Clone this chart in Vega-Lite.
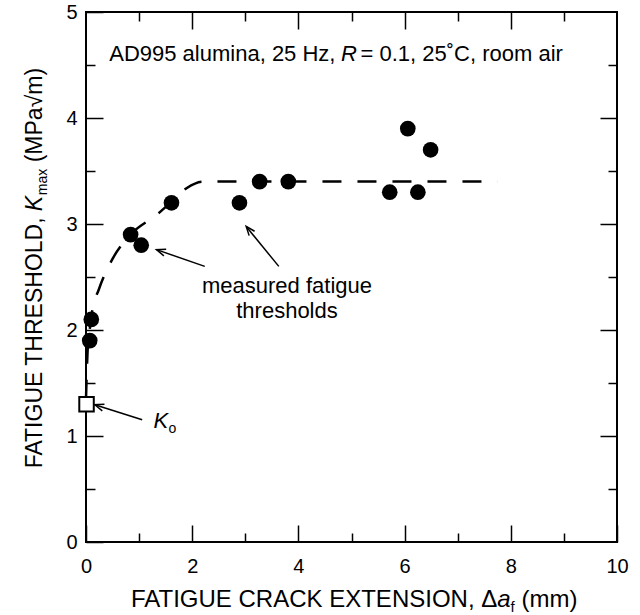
{
  "$schema": "https://vega.github.io/schema/vega-lite/v6.json",
  "width": 531,
  "height": 530,
  "autosize": {"type": "none"},
  "padding": {"left": 86, "top": 12, "right": 23, "bottom": 73},
  "background": "#ffffff",
  "config": {
    "view": {"stroke": "#000000", "strokeWidth": 2},
    "font": "Liberation Sans",
    "axis": {
      "grid": false,
      "domain": false,
      "title": null,
      "tickColor": "#000000",
      "tickWidth": 1.5,
      "labelColor": "#000000",
      "labelFont": "Liberation Sans",
      "labelFontSize": 20,
      "labelFlush": false
    }
  },
  "datasets": {
    "thresholds": [
      {"x": 0.07, "y": 1.9},
      {"x": 0.1, "y": 2.1},
      {"x": 0.84, "y": 2.9},
      {"x": 1.04, "y": 2.8},
      {"x": 1.61, "y": 3.2},
      {"x": 2.89, "y": 3.2},
      {"x": 3.27, "y": 3.4},
      {"x": 3.81, "y": 3.4},
      {"x": 5.72, "y": 3.3},
      {"x": 6.25, "y": 3.3},
      {"x": 6.06, "y": 3.9},
      {"x": 6.49, "y": 3.7}
    ],
    "trend": [
      {"x": 0.0, "y": 1.35},
      {"x": 0.03, "y": 1.8},
      {"x": 0.07, "y": 2.0},
      {"x": 0.12, "y": 2.19},
      {"x": 0.24, "y": 2.38},
      {"x": 0.51, "y": 2.68},
      {"x": 0.84, "y": 2.9},
      {"x": 1.34, "y": 3.09},
      {"x": 1.61, "y": 3.21},
      {"x": 1.9, "y": 3.34},
      {"x": 2.2, "y": 3.4},
      {"x": 7.75, "y": 3.4}
    ],
    "ko": [{"x": 0.01, "y": 1.3}],
    "arrows": [
      {"id": "a1", "x": 1.328, "y": 2.758, "x2": 2.237, "y2": 2.6},
      {"id": "a2", "x": 3.017, "y": 2.977, "x2": 3.631, "y2": 2.6},
      {"id": "ko", "x": 0.166, "y": 1.295, "x2": 1.058, "y2": 1.154}
    ]
  },
  "resolve": {"axis": {"x": "independent", "y": "independent"}},
  "layer": [
    {
      "data": {"name": "trend"},
      "mark": {"type": "line", "color": "#000000", "strokeWidth": 2.5, "strokeDash": [19, 16], "interpolate": "monotone"},
      "encoding": {
        "x": {"field": "x", "type": "quantitative", "scale": {"domain": [0, 10], "nice": false},
              "axis": {"orient": "bottom", "values": [0, 2, 4, 6, 8, 10], "tickSize": -17, "labelPadding": 31, "labelFlush": false}},
        "y": {"field": "y", "type": "quantitative", "scale": {"domain": [0, 5], "nice": false},
              "axis": {"orient": "left", "values": [0, 1, 2, 3, 4, 5], "tickSize": -17, "labelPadding": 26, "labelFlush": false}}
      }
    },
    {
      "data": {"name": "thresholds"},
      "mark": {"type": "point", "shape": "circle", "filled": true, "color": "#000000", "size": 245, "opacity": 1},
      "encoding": {
        "x": {"field": "x", "type": "quantitative", "scale": {"domain": [0, 10], "nice": false},
              "axis": {"orient": "bottom", "values": [1, 3, 5, 7, 9], "tickSize": -9, "labels": false}},
        "y": {"field": "y", "type": "quantitative", "scale": {"domain": [0, 5], "nice": false},
              "axis": {"orient": "left", "values": [0.5, 1.5, 2.5, 3.5, 4.5], "tickSize": -9, "labels": false}}
      }
    },
    {
      "data": {"name": "ko"},
      "mark": {"type": "point", "shape": "square", "filled": false, "fill": "#ffffff", "stroke": "#000000", "strokeWidth": 2, "size": 210, "opacity": 1},
      "encoding": {
        "x": {"field": "x", "type": "quantitative", "scale": {"domain": [0, 10], "nice": false},
              "axis": {"orient": "top", "values": [2, 4, 6, 8], "tickSize": -17, "labels": false}},
        "y": {"field": "y", "type": "quantitative", "scale": {"domain": [0, 5], "nice": false},
              "axis": {"orient": "right", "values": [1, 2, 3, 4], "tickSize": -17, "labels": false}}
      }
    },
    {
      "data": {"name": "arrows"},
      "mark": {"type": "rule", "color": "#000000", "strokeWidth": 1.5},
      "encoding": {
        "x": {"field": "x", "type": "quantitative", "scale": {"domain": [0, 10], "nice": false},
              "axis": {"orient": "top", "values": [1, 3, 5, 7, 9], "tickSize": -9, "labels": false}},
        "y": {"field": "y", "type": "quantitative", "scale": {"domain": [0, 5], "nice": false},
              "axis": {"orient": "right", "values": [0.5, 1.5, 2.5, 3.5, 4.5], "tickSize": -9, "labels": false}},
        "x2": {"field": "x2"},
        "y2": {"field": "y2"}
      }
    },
    {
      "data": {"name": "arrows"},
      "transform": [{"filter": "datum.id === 'a1'"}],
      "mark": {"type": "point", "shape": "M-0.7,1.8L0,0L0.7,1.8", "filled": false, "stroke": "#000000", "strokeWidth": 1.5, "size": 100, "angle": 289, "opacity": 1},
      "encoding": {
        "x": {"field": "x", "type": "quantitative", "axis": null},
        "y": {"field": "y", "type": "quantitative", "axis": null}
      }
    },
    {
      "data": {"name": "arrows"},
      "transform": [{"filter": "datum.id === 'a2'"}],
      "mark": {"type": "point", "shape": "M-0.7,1.8L0,0L0.7,1.8", "filled": false, "stroke": "#000000", "strokeWidth": 1.5, "size": 100, "angle": 321, "opacity": 1},
      "encoding": {
        "x": {"field": "x", "type": "quantitative", "axis": null},
        "y": {"field": "y", "type": "quantitative", "axis": null}
      }
    },
    {
      "data": {"name": "arrows"},
      "transform": [{"filter": "datum.id === 'ko'"}],
      "mark": {"type": "point", "shape": "M-0.7,1.8L0,0L0.7,1.8", "filled": false, "stroke": "#000000", "strokeWidth": 1.5, "size": 100, "angle": 288, "opacity": 1},
      "encoding": {
        "x": {"field": "x", "type": "quantitative", "axis": null},
        "y": {"field": "y", "type": "quantitative", "axis": null}
      }
    },
    {
      "data": {"values": [
        {"label": "= 0.1, 25˚C, room air", "x": 5.17, "y": 4.54}
      ]},
      "mark": {"type": "text", "align": "left", "baseline": "alphabetic", "fontSize": 22, "color": "#000000"},
      "encoding": {
        "x": {"field": "x", "type": "quantitative", "axis": null},
        "y": {"field": "y", "type": "quantitative", "axis": null},
        "text": {"field": "label"}
      }
    },
    {
      "data": {"values": [
        {"label": "AD995 alumina, 25 Hz,", "x": 4.698, "y": 4.54}
      ]},
      "mark": {"type": "text", "align": "right", "baseline": "alphabetic", "fontSize": 22, "color": "#000000"},
      "encoding": {
        "x": {"field": "x", "type": "quantitative", "axis": null},
        "y": {"field": "y", "type": "quantitative", "axis": null},
        "text": {"field": "label"}
      }
    },
    {
      "data": {"values": [
        {"label": "R", "x": 4.8, "y": 4.54},
        {"label": "K", "x": 1.27, "y": 1.075}
      ]},
      "mark": {"type": "text", "align": "left", "baseline": "alphabetic", "fontSize": 22, "fontStyle": "italic", "color": "#000000"},
      "encoding": {
        "x": {"field": "x", "type": "quantitative", "axis": null},
        "y": {"field": "y", "type": "quantitative", "axis": null},
        "text": {"field": "label"}
      }
    },
    {
      "data": {"values": [
        {"label": "o", "x": 1.555, "y": 1.03}
      ]},
      "mark": {"type": "text", "align": "left", "baseline": "alphabetic", "fontSize": 14, "color": "#000000"},
      "encoding": {
        "x": {"field": "x", "type": "quantitative", "axis": null},
        "y": {"field": "y", "type": "quantitative", "axis": null},
        "text": {"field": "label"}
      }
    },
    {
      "data": {"values": [
        {"label": "measured fatigue", "x": 3.785, "y": 2.349},
        {"label": "thresholds", "x": 3.785, "y": 2.113}
      ]},
      "mark": {"type": "text", "align": "center", "baseline": "alphabetic", "fontSize": 22, "color": "#000000"},
      "encoding": {
        "x": {"field": "x", "type": "quantitative", "axis": null},
        "y": {"field": "y", "type": "quantitative", "axis": null},
        "text": {"field": "label"}
      }
    },
    {
      "data": {"values": [
        {"label": "FATIGUE CRACK EXTENSION, Δ", "x": 7.745, "y": -0.615}
      ]},
      "mark": {"type": "text", "align": "right", "baseline": "alphabetic", "fontSize": 24, "color": "#000000"},
      "encoding": {
        "x": {"field": "x", "type": "quantitative", "axis": null},
        "y": {"field": "y", "type": "quantitative", "axis": null},
        "text": {"field": "label"}
      }
    },
    {
      "data": {"values": [
        {"label": "a", "x": 7.745, "y": -0.615}
      ]},
      "mark": {"type": "text", "align": "left", "baseline": "alphabetic", "fontSize": 24, "fontStyle": "italic", "color": "#000000"},
      "encoding": {
        "x": {"field": "x", "type": "quantitative", "axis": null},
        "y": {"field": "y", "type": "quantitative", "axis": null},
        "text": {"field": "label"}
      }
    },
    {
      "data": {"values": [
        {"label": "f", "x": 7.995, "y": -0.662}
      ]},
      "mark": {"type": "text", "align": "left", "baseline": "alphabetic", "fontSize": 15, "color": "#000000"},
      "encoding": {
        "x": {"field": "x", "type": "quantitative", "axis": null},
        "y": {"field": "y", "type": "quantitative", "axis": null},
        "text": {"field": "label"}
      }
    },
    {
      "data": {"values": [
        {"label": "(mm)", "x": 8.2, "y": -0.615}
      ]},
      "mark": {"type": "text", "align": "left", "baseline": "alphabetic", "fontSize": 24, "color": "#000000"},
      "encoding": {
        "x": {"field": "x", "type": "quantitative", "axis": null},
        "y": {"field": "y", "type": "quantitative", "axis": null},
        "text": {"field": "label"}
      }
    },
    {
      "data": {"values": [
        {"label": "FATIGUE THRESHOLD,", "x": -0.829, "y": 3.062}
      ]},
      "mark": {"type": "text", "align": "right", "baseline": "alphabetic", "angle": 270, "fontSize": 23, "color": "#000000"},
      "encoding": {
        "x": {"field": "x", "type": "quantitative", "axis": null},
        "y": {"field": "y", "type": "quantitative", "axis": null},
        "text": {"field": "label"}
      }
    },
    {
      "data": {"values": [
        {"label": "K", "x": -0.829, "y": 3.12}
      ]},
      "mark": {"type": "text", "align": "left", "baseline": "alphabetic", "angle": 270, "fontSize": 23, "fontStyle": "italic", "color": "#000000"},
      "encoding": {
        "x": {"field": "x", "type": "quantitative", "axis": null},
        "y": {"field": "y", "type": "quantitative", "axis": null},
        "text": {"field": "label"}
      }
    },
    {
      "data": {"values": [
        {"label": "max", "x": -0.739, "y": 3.272}
      ]},
      "mark": {"type": "text", "align": "left", "baseline": "alphabetic", "angle": 270, "fontSize": 14, "color": "#000000"},
      "encoding": {
        "x": {"field": "x", "type": "quantitative", "axis": null},
        "y": {"field": "y", "type": "quantitative", "axis": null},
        "text": {"field": "label"}
      }
    },
    {
      "data": {"values": [
        {"label": "(MPa√m)", "x": -0.829, "y": 3.582}
      ]},
      "mark": {"type": "text", "align": "left", "baseline": "alphabetic", "angle": 270, "fontSize": 23, "color": "#000000"},
      "encoding": {
        "x": {"field": "x", "type": "quantitative", "axis": null},
        "y": {"field": "y", "type": "quantitative", "axis": null},
        "text": {"field": "label"}
      }
    }
  ]
}
